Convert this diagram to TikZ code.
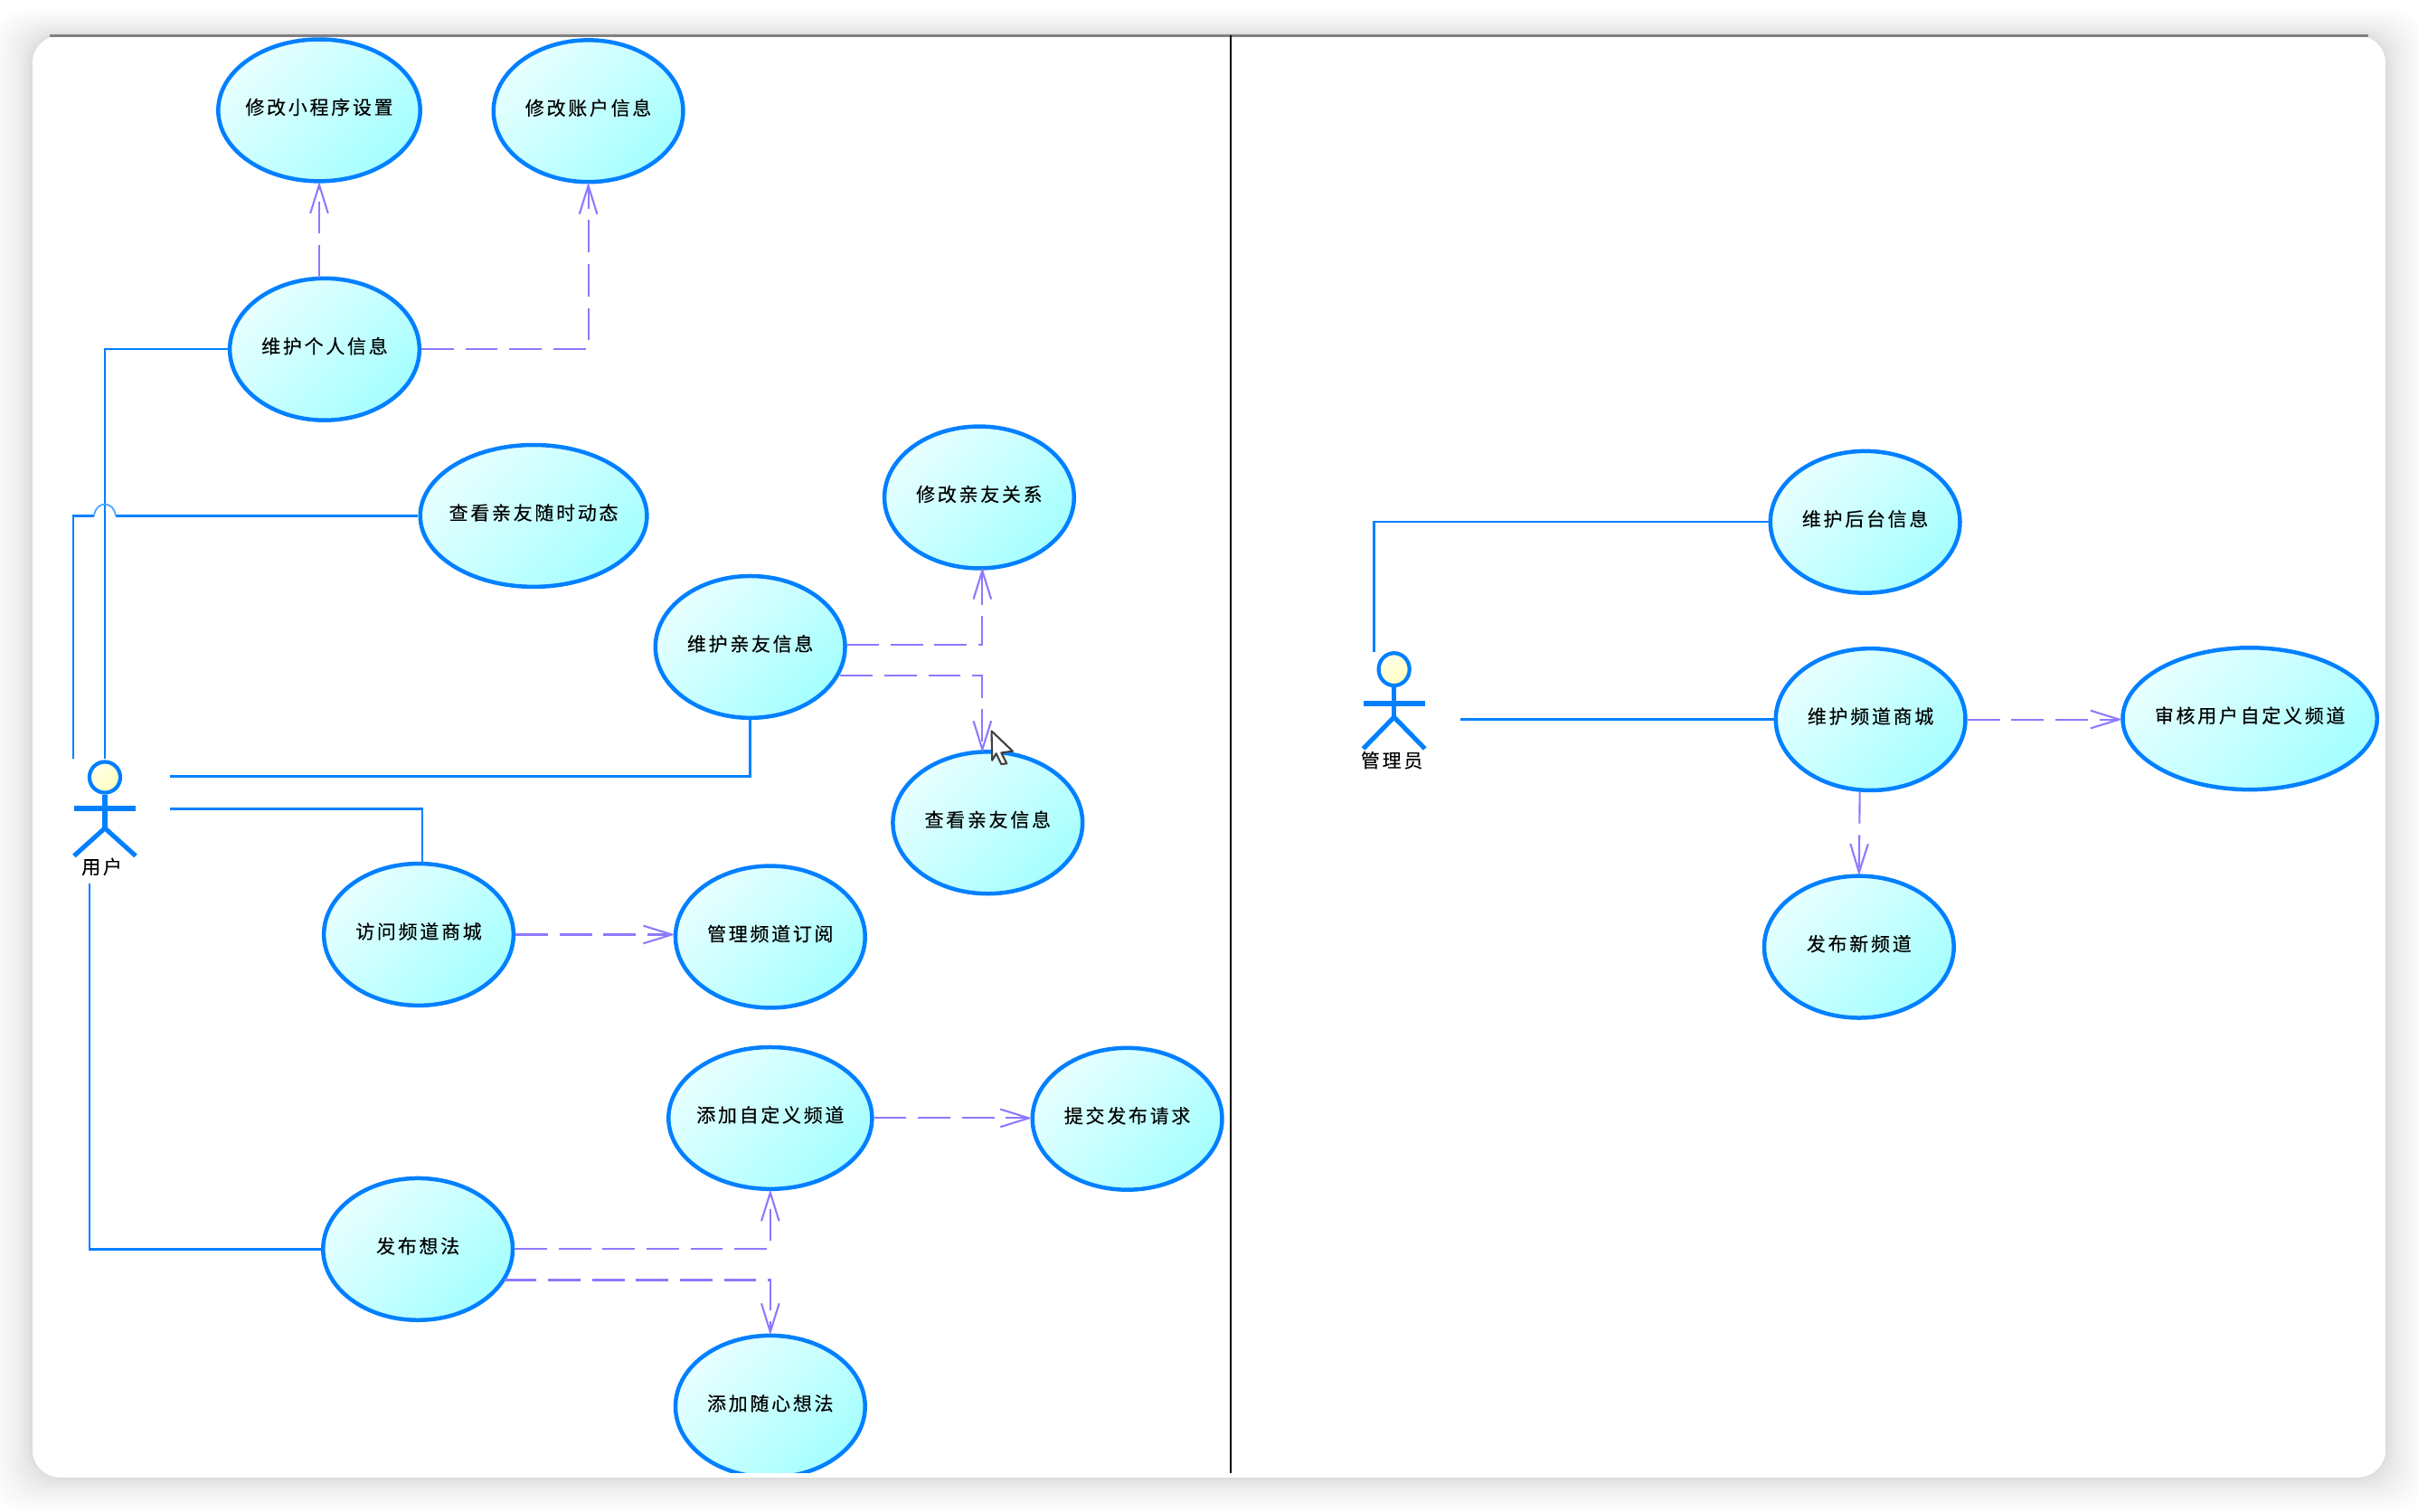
\documentclass[tikz,border=0pt]{standalone}
\usepackage{fontspec}
\newfontfamily\cjk{Noto Sans CJK SC}[LetterSpace=13,FakeBold=0.15]
\usetikzlibrary{arrows.meta,shapes.geometric}
\definecolor{assocblue}{RGB}{0,128,255}
\definecolor{depviolet}{RGB}{140,122,255}
\definecolor{casepale}{RGB}{232,255,255}
\definecolor{casedeep}{RGB}{165,255,255}
\definecolor{headpale}{RGB}{255,255,235}
\definecolor{headdeep}{RGB}{255,255,190}
\tikzset{
  usecase/.style={ellipse, draw=assocblue, line width=1.5pt, inner ysep=0pt, inner xsep=-1cm,
    minimum width=2.46cm, minimum height=1.84cm, top color=casepale, bottom color=casedeep,
    shading angle=45, font=\cjk\fontsize{7}{8}\selectfont, text height=6pt, text depth=3pt},
  assoc/.style={draw=assocblue, line width=0.8pt},
  depend/.style={draw=depviolet, line width=0.7pt, dash pattern=on 0.42cm off 0.15cm, shorten >=-0.6pt,
    -{Straight Barb[length=0.37cm,width=0.23cm]}},
  actorhead/.style={ellipse, draw=assocblue, line width=1.4pt, inner sep=0pt,
    top color=headpale, bottom color=headdeep, shading angle=45},
  actorline/.style={draw=assocblue, line width=1.7pt},
  actorname/.style={font=\cjk\fontsize{7}{8}\selectfont, inner sep=0pt}
}
\begin{document}
\begin{tikzpicture}[x=0.02cm, y=-0.02cm]
\useasboundingbox (0,0) rectangle (1568,980.4);

% window shadow and sheet
\foreach \s in {1,...,20}
  \fill [black, opacity=0.009, rounded corners=0.42cm] (21-\s*\s/15,23-\s*\s/24) rectangle (1547+\s*\s/15,958+\s*\s/18);
\fill [white, rounded corners=0.36cm] (21,23) rectangle (1547,958);
\draw [gray, line width=1.1pt] (32,23) -- (1536,23);

% swimlane divider
\coordinate (laneTop) at (798,23);
\coordinate (laneEnd) at (798,955);
\draw [black, line width=0.8pt] (laneTop) -- (laneEnd);

\begin{scope}
\clip (21,23) rectangle (1547,955);

% user side
\node [usecase, minimum width=2.62cm] (miniset) at (207,71.5) {修改小程序设置};
\node [usecase] (account) at (381.5,72) {修改账户信息};
\node [usecase] (selfinfo) at (210.5,226.5) {维护个人信息};
\node [usecase, minimum width=2.94cm] (moments) at (346,334.5) {查看亲友随时动态};
\node [usecase] (relation) at (635,322.5) {修改亲友关系};
\node [usecase] (kininfo) at (486.5,419.5) {维护亲友信息};
\node [usecase] (kinview) at (640.5,533.5) {查看亲友信息};
\node [usecase] (visitmall) at (271.5,606) {访问频道商城};
\node [usecase] (subscribe) at (499.5,607.5) {管理频道订阅};
\node [usecase, minimum width=2.64cm] (custom) at (499.5,725) {添加自定义频道};
\node [usecase] (submit) at (731,725.5) {提交发布请求};
\node [usecase] (publish) at (271,810) {发布想法};
\node [usecase] (casual) at (499.5,912) {添加随心想法};

% admin side
\node [usecase] (backend) at (1209.5,338.5) {维护后台信息};
\node [usecase] (mall) at (1213,466.5) {维护频道商城};
\node [usecase, minimum width=3.3cm] (review) at (1459,466) {审核用户自定义频道};
\node [usecase] (newchan) at (1205.5,614) {发布新频道};
\end{scope}

% user actor
\node [actorhead, minimum width=0.4cm, minimum height=0.4cm] (userhead) at (68,504) {};
\coordinate (userhip) at (68,537);
\coordinate (userarmL) at (48,524);
\coordinate (userarmR) at (88,524);
\coordinate (userlegL) at (48,555);
\coordinate (userlegR) at (88,555);
\draw [actorline] (userhead) -- (userhip);
\draw [actorline, line width=2pt] (userarmL) -- (userarmR);
\draw [actorline] (userlegL) -- (userhip) -- (userlegR);
\node [actorname] (username) at (66,562) {用户};

% admin actor
\node [actorhead, minimum width=0.4cm, minimum height=0.42cm] (adminhead) at (904,434) {};
\coordinate (adminhip) at (904,465);
\coordinate (adminarmL) at (884,456);
\coordinate (adminarmR) at (924,456);
\coordinate (adminlegL) at (884,485.5);
\coordinate (adminlegR) at (924,485.5);
\draw [actorline] (adminhead) -- (adminhip);
\draw [actorline, line width=2pt] (adminarmL) -- (adminarmR);
\draw [actorline] (adminlegL) -- (adminhip) -- (adminlegR);
\node [actorname] (adminname) at (902.5,493) {管理员};

% associations
\coordinate (userA) at (68,492);
\coordinate (userB) at (47.5,492);
\coordinate (userC) at (110.5,503.5);
\coordinate (userD) at (110.5,524.5);
\coordinate (userE) at (58,573);
\coordinate (adminA) at (891,423);
\coordinate (adminB) at (947,466.5);
\coordinate (hopL) at (61,334.5);
\coordinate (hopR) at (75,334.5);

\draw [assoc] (userA) |- (selfinfo.west);
\draw [assoc] (userB) |- (hopL);
\draw [assoc] (hopR) -- (moments.west);
\draw [assoc, draw=assocblue!70, line width=0.6pt] (hopL) .. controls (62,324.5) and (74,324.5) .. (hopR);
\draw [assoc] (userC) -| (kininfo.south);
\draw [assoc] (userD) -| (274,559);
\draw [assoc] (userE) |- (publish.west);
\draw [assoc] (adminA) |- (backend.west);
\draw [assoc] (adminB) -- (mall.west);

% dependencies
\draw [depend] (207,180) -- (miniset.south);
\draw [depend] (selfinfo.east) -| (account.south);
\draw [depend] (549,418) -| (637,369);
\draw [depend] (545,438) -| (637,487);
\draw [depend] (visitmall.east) -- (visitmall.east -| subscribe.west);
\draw [depend] (custom.east) -- (custom.east -| submit.west);
\draw [depend] (publish.east) -| (custom.south);
\draw [depend] (327,830) -| (casual.north);
\draw [depend] (mall.east) -- (mall.east -| review.west);
\draw [depend] (1206,513) -- (newchan.north);

% mouse pointer
\draw [fill=white, draw=black!75, line width=0.7pt, line join=round] (643,474) -- (656.7,487.1) -- (649.3,488.1)
  -- (652.8,495.1) -- (649.3,495.5) -- (646,488.6) -- (643.4,493) -- cycle;

\end{tikzpicture}
\end{document}
